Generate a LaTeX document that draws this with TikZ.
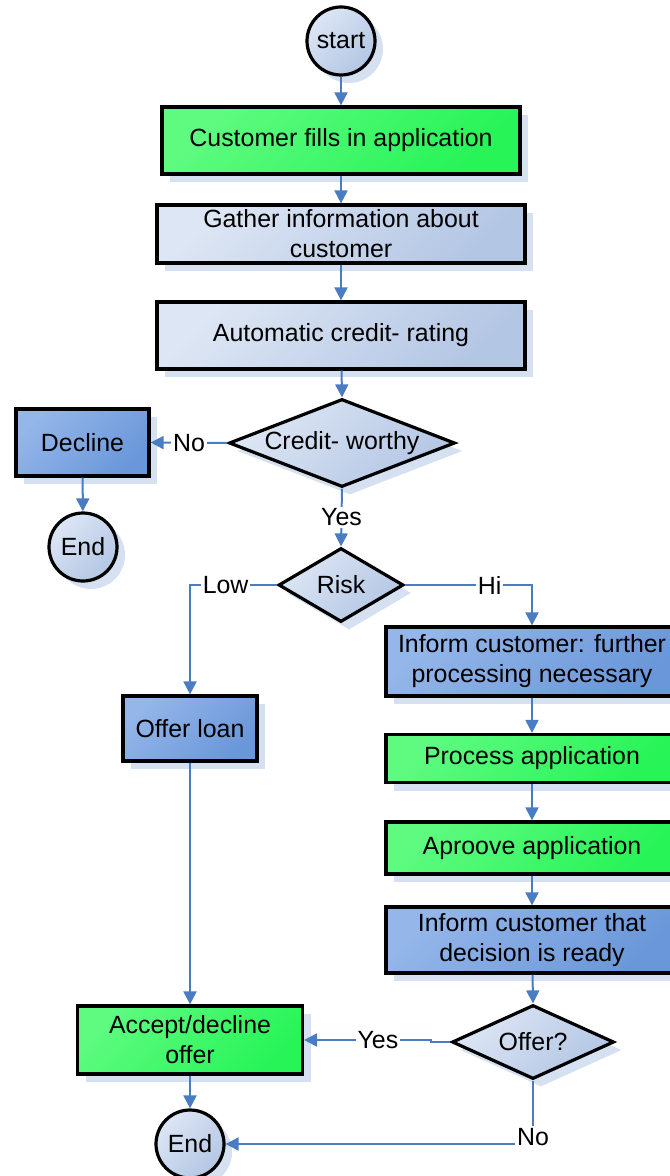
\documentclass[tikz,border=0pt]{standalone}
\usepackage{fontspec}
\setmainfont{Liberation Sans}
\usetikzlibrary{shapes.geometric,arrows.meta,shadows}

\definecolor{paleA}{HTML}{DDE6F4}
\definecolor{paleB}{HTML}{B3C6E4}
\definecolor{midA}{HTML}{94B6E9}
\definecolor{midB}{HTML}{6A97D9}
\definecolor{greenA}{HTML}{5EFB80}
\definecolor{greenB}{HTML}{27F457}
\definecolor{shadowc}{HTML}{D5E0F1}
\definecolor{linkc}{HTML}{4A7CC4}

\newcommand\chartfont{\fontsize{12.45}{15}\selectfont}

\tikzset{
  shape base/.style={draw=black, line width=1.6pt, inner sep=0pt, align=center,
    font=\chartfont,
    drop shadow={shadow xshift=4pt, shadow yshift=-4pt, fill=shadowc, opacity=1}},
  pale/.style={top color=paleA, bottom color=paleB, shading angle=45},
  mid/.style={top color=midA, bottom color=midB, shading angle=45},
  green/.style={top color=greenA, bottom color=greenB, shading angle=45},
  terminal/.style={shape base, pale, circle, minimum size=34pt},
  procbox/.style={shape base, rectangle},
  decision/.style={shape base, pale, diamond},
  link/.style={draw=linkc, line width=1pt, -{Triangle[length=6.5pt,width=6.5pt]}},
  tag/.style={fill=white, inner sep=1pt, font=\chartfont, text=black},
}

\begin{document}
\begin{tikzpicture}[x=0.5pt, y=-0.5pt]
  \useasboundingbox (0,0) rectangle (669,1176);

  % main column
  \node[terminal] (start) at (341,41) {start};
  \node[procbox, green, minimum width=179pt, minimum height=33.5pt] (fill) at (341,140.5) {Customer fills in application};
  \node[procbox, pale, minimum width=184pt, minimum height=29pt] (gather) at (341,234) {Gather information about\\customer};
  \node[procbox, pale, minimum width=184pt, minimum height=33.5pt] (rating) at (341,335.5) {Automatic credit- rating};
  \node[decision, minimum width=113pt, minimum height=44pt, label={center:{\chartfont Credit- worthy}}] (worthy) at (342,443) {};

  % declined branch
  \node[procbox, mid, minimum width=66.5pt, minimum height=33.5pt] (decline) at (82.5,442.5) {Decline};
  \node[terminal] (endA) at (83,547) {End};

  % risk decision
  \node[decision, minimum width=62.5pt, minimum height=37pt, label={center:{\chartfont Risk}}] (risk) at (341,585) {};

  % low risk branch
  \node[procbox, mid, minimum width=67pt, minimum height=32.5pt] (loan) at (190,728.5) {Offer loan};

  % high risk branch
  \node[procbox, mid, minimum width=146pt, minimum height=34.5pt] (informA) at (532,661.5) {Inform customer: further\\processing necessary};
  \node[procbox, green, minimum width=146pt, minimum height=24pt] (process) at (532,758.5) {Process application};
  \node[procbox, green, minimum width=146pt, minimum height=26pt] (approve) at (532,848) {Aproove application};
  \node[procbox, mid, minimum width=146pt, minimum height=33pt] (informB) at (532,940) {Inform customer that\\decision is ready};
  \node[decision, minimum width=81pt, minimum height=37pt, label={center:{\chartfont Offer?}}] (offer) at (533,1042) {};

  % closing
  \node[procbox, green, minimum width=112.5pt, minimum height=34pt] (accept) at (190,1040) {Accept/decline\\offer};
  \node[terminal] (endB) at (190,1144) {End};

  % connectors
  \draw[link] (start) -- (fill);
  \draw[link] (fill) -- (gather);
  \draw[link] (gather) -- (rating);
  \draw[link] (rating) -- (worthy.north);
  \draw[link] (worthy.west) -- node[tag] {No} (decline.east);
  \draw[link] (decline) -- (endA);
  \draw[link] (worthy.south) -- node[tag] {Yes} (risk.north);
  \draw[link] (risk.west) -| node[tag, pos=0.295] {Low} (loan.north);
  \draw[link] (risk.east) -| node[tag, pos=0.333] {Hi} (informA.north);
  \draw[link] (informA) -- (process);
  \draw[link] (process) -- (approve);
  \draw[link] (approve) -- (informB);
  \draw[link] (informB) -- (offer.north);
  \coordinate (jog) at ([xshift=-9.5pt]offer.west);
  \draw[link] (offer.west) -- (jog) |- node[tag, pos=0.71] {Yes} (accept.east);
  \draw[link] (loan) -- (accept);
  \draw[link] (accept) -- (endB);
  \draw[link] (offer.south) |- node[tag, pos=0.5, yshift=3.5pt] {No} (endB.east);
\end{tikzpicture}
\end{document}
